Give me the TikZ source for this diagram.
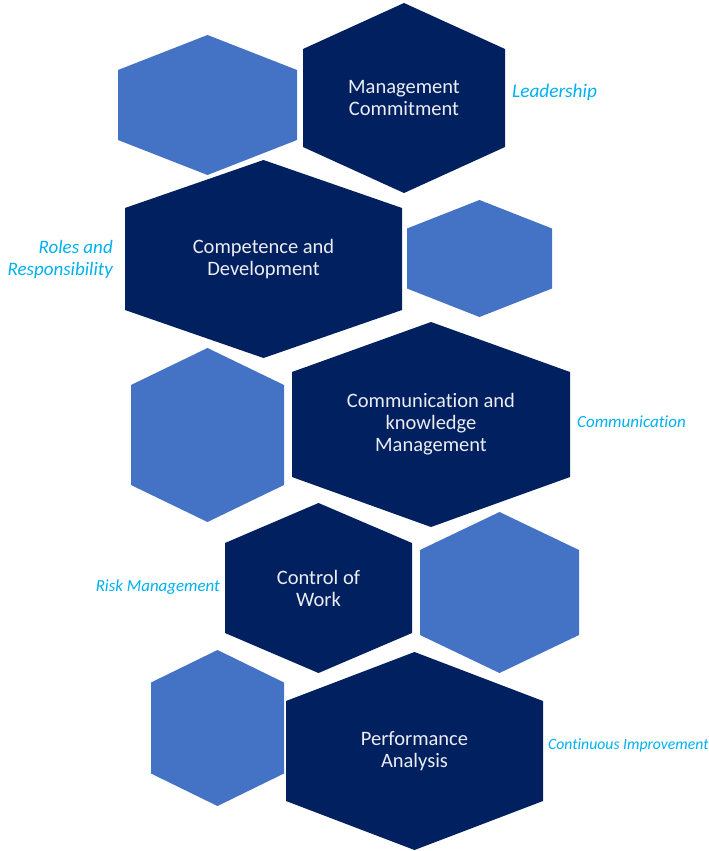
\documentclass[tikz,border=0pt]{standalone}
\usepackage{fontspec}
\setmainfont{Carlito}[Ligatures=NoCommon]
\usepackage{xcolor}
\usepackage{tikz}
\usetikzlibrary{positioning}

\definecolor{navy}{HTML}{002060}
\definecolor{midblue}{HTML}{4472C4}
\definecolor{skyblue}{HTML}{00B0F0}

\tikzset{
  hextext/.style={text=white!92!navy, align=center, inner sep=0pt, font=\fontsize{20.5}{22}\selectfont},
  sidelabel/.style={text=skyblue, inner sep=0pt, font=\itshape\fontsize{17}{21}\selectfont}
}

% name, fill, centre x, centre y, half width, half height, half side, text
\newcommand{\hexcell}[8]{%
  \begin{scope}[shift={(#3,#4)}]
    \fill[#2] (0,-#6) -- (#5,-#7) -- (#5,#7) -- (0,#6) -- (-#5,#7) -- (-#5,-#7) -- cycle;
    \node[hextext] (#1) at (0,0) {#8};
  \end{scope}}

\begin{document}
\begin{tikzpicture}[x=1pt, y=-1pt]
        \useasboundingbox (0,0) rectangle (709,851);

        % light cells
        \hexcell{lightA}{midblue}{207.5}{105}{89.5}{70}{35}{}
        \hexcell{lightB}{midblue}{207.5}{435}{76.5}{87}{50}{}
        \hexcell{lightC}{midblue}{479.5}{258.5}{72.5}{58.5}{30}{}
        \hexcell{lightD}{midblue}{499.5}{592.5}{79.5}{80.5}{42.5}{}
        \hexcell{lightE}{midblue}{217.5}{728}{66.5}{78}{45.5}{}

        % dark cells
        \hexcell{commit}{navy}{404}{98}{101}{95}{49}{Management\\Commitment}
        \hexcell{compet}{navy}{263.5}{259}{138.5}{99}{51}{Competence and\\Development}
        \hexcell{knowl}{navy}{431}{424.5}{139}{102.5}{52.5}{Communication and\\knowledge\\Management}
        \hexcell{control}{navy}{318.5}{588}{93.5}{85}{45}{Control of\\Work}
        \hexcell{perform}{navy}{414.5}{751}{128.5}{99}{50}{Performance\\Analysis}

        % side labels
        \node[sidelabel, anchor=west, font=\itshape\fontsize{19.3}{21}\selectfont] (lead) at (512,92) {Leadership};
        \node[sidelabel, anchor=east, align=right, font=\itshape\fontsize{19}{22}\selectfont] (roles) at (113,259) {Roles and\\Responsibility};
        \node[sidelabel, anchor=west, font=\itshape\fontsize{17}{20}\selectfont] (comm) at (577,422) {Communication};
        \node[sidelabel, anchor=east, font=\itshape\fontsize{16.9}{20}\selectfont] (risk) at (220,587) {Risk Management};
        \node[sidelabel, anchor=west, font=\itshape\fontsize{15.7}{20}\selectfont] (improve) at (548,745) {Continuous Improvement};
    \end{tikzpicture}
\end{document}
